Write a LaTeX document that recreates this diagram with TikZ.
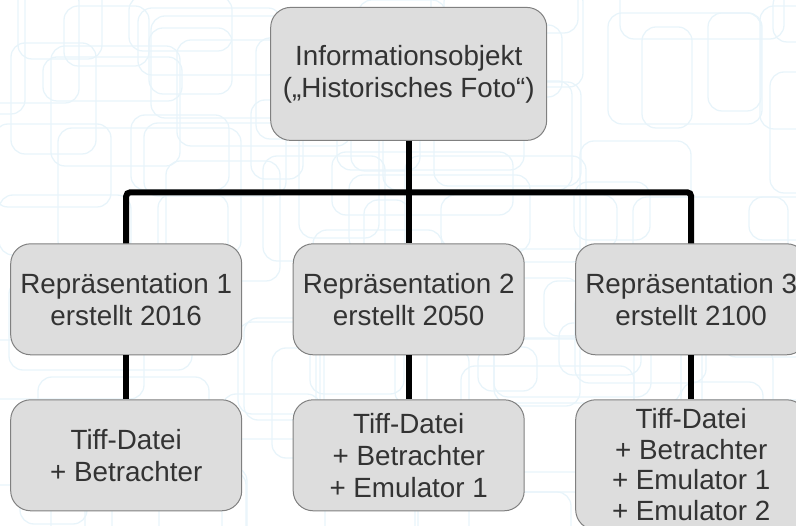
\documentclass[tikz,border=0pt]{standalone}
\usepackage{fontspec}
\setmainfont{Liberation Sans}
\usetikzlibrary{matrix}
\definecolor{boxfill}{RGB}{221,221,221}
\definecolor{boxline}{RGB}{128,128,128}
\definecolor{boxtext}{RGB}{51,51,51}
\definecolor{tracecol}{RGB}{232,244,250}
\tikzset{
	box/.style = { draw=boxline, fill=boxfill, text=boxtext, line width=1pt,
		rounded corners=20pt, align=center, anchor=north, inner sep=6pt,
		minimum width=231pt, minimum height=111pt,
		font=\fontsize{27.8}{32}\selectfont },
	topbox/.style = { box, minimum width=276pt, minimum height=133pt },
	longbox/.style = { box, inner sep=4pt, minimum height=130pt,
		font=\fontsize{27.8}{30.5}\selectfont },
	link/.style = { line width=6pt, color=black },
	backline/.style = { draw=tracecol, line width=1.3pt, rounded corners=14pt },
}

\begin{document}
\begin{tikzpicture}[x=1pt, y=-1pt]
\useasboundingbox (0,0) rectangle (796,526);

% faint background traces
\pgfmathsetseed{42}
\foreach \k in {1,...,90}
{
	\pgfmathsetmacro{\bx}{random(-40,780)}
	\pgfmathsetmacro{\by}{random(-40,510)}
	\pgfmathsetmacro{\bw}{random(40,200)}
	\pgfmathsetmacro{\bh}{random(40,140)}
	\draw[backline] (\bx,\by) rectangle ++(\bw,\bh);
}

\matrix (chart)
[
inner sep    = 0pt,
column sep   = 28pt,
anchor       = north west,
] at (10,6.7)
{
	& \node[topbox] (info) {Informationsobjekt\\(„Historisches Foto“)}; & \\[102.4pt]
	\node[box] (rep1) {Repräsentation 1\\erstellt 2016}; &
	\node[box] (rep2) {Repräsentation 2\\erstellt 2050}; &
	\node[box] (rep3) {Repräsentation 3\\erstellt 2100}; \\[44pt]
	\node[box] (file1) {Tiff-Datei\\+ Betrachter}; &
	\node[box] (file2) {Tiff-Datei\\+ Betrachter\\+ Emulator 1}; &
	\node[longbox] (file3) {Tiff-Datei\\+ Betrachter\\+ Emulator 1\\+ Emulator 2}; \\
};

% tree connectors
\draw[link] (info.south) -- ++(0,51.4) coordinate (hub);
\draw[link] (hub) -- (rep2.north);
\draw[link, rounded corners=4pt] (rep1.north) |- (hub) -| (rep3.north);
\draw[link] (rep1.south) -- (file1.north);
\draw[link] (rep2.south) -- (file2.north);
\draw[link] (rep3.south) -- (file3.north);
\end{tikzpicture}
\end{document}
